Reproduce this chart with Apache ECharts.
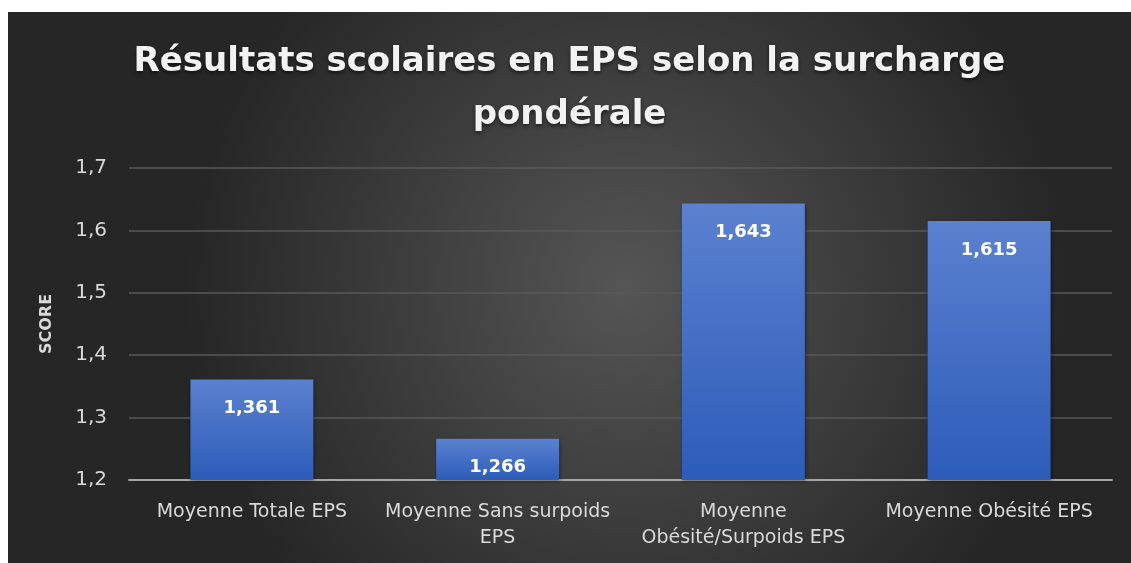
<!DOCTYPE html>
<html>
<head>
<meta charset="utf-8">
<style>
    html, body {
        margin: 0;
        padding: 0;
        background: #ffffff;
    }

    #main {
        position: absolute;
        left: 8px;
        top: 12px;
        width: 1123px;
        height: 551px;
    }
</style>
<script src="https://cdn.jsdelivr.net/npm/echarts@6/dist/echarts.min.js"></script>
</head>
<body>
<div id="main"></div>
<script>
    // 数据
    var categories = [
        'Moyenne Totale EPS',
        'Moyenne Sans surpoids\nEPS',
        'Moyenne\nObésité/Surpoids EPS',
        'Moyenne Obésité EPS'
    ];
    var scores = [1.361, 1.266, 1.643, 1.615];
    var chartTitle = 'Résultats scolaires en EPS selon la surcharge\npondérale';
    var axisName = 'SCORE';

    var myChart = echarts.init(document.getElementById('main'));

    var fontName = 'DejaVu Sans';

    option = {
        backgroundColor: {
            type: 'radial', x: 0.55, y: 0.5, r: 0.8,
            colorStops: [
                {offset: 0, color: '#555555'},
                {offset: 1, color: '#262626'}
            ]
        },
        title: {
            text: chartTitle,
            left: 'center',
            top: 19,
            textStyle: {
                color: '#f2f2f2',
                fontFamily: fontName,
                fontWeight: 'bold',
                fontSize: 34,
                lineHeight: 53,
                textShadowColor: 'rgba(0,0,0,0.6)',
                textShadowBlur: 4,
                textShadowOffsetY: 2
            }
        },
        grid: {
            left: 121,
            right: 19,
            top: 156,
            bottom: 83
        },
        xAxis: {
            type: 'category',
            data: categories,
            axisLine: {lineStyle: {color: '#a6a6a6', width: 2}},
            axisTick: {show: false},
            axisLabel: {
                color: '#d9d9d9',
                fontFamily: fontName,
                fontSize: 19,
                lineHeight: 26,
                margin: 19,
                interval: 0
            }
        },
        yAxis: {
            type: 'value',
            min: 1.2,
            max: 1.7,
            interval: 0.1,
            name: axisName,
            nameLocation: 'middle',
            nameGap: 74,
            nameTextStyle: {
                color: '#d9d9d9',
                fontFamily: fontName,
                fontWeight: 'bold',
                fontSize: 16
            },
            axisLine: {show: false},
            axisTick: {show: false},
            axisLabel: {
                color: '#d9d9d9',
                fontFamily: fontName,
                fontSize: 20,
                margin: 22,
                formatter: function (v) {
                    return v.toFixed(1).replace('.', ',');
                }
            },
            splitLine: {lineStyle: {color: '#595959', width: 1.5}}
        },
        series: [{
            type: 'bar',
            data: scores,
            barWidth: '50%',
            itemStyle: {
                color: {
                    type: 'linear', x: 0, y: 0, x2: 0, y2: 1,
                    colorStops: [
                        {offset: 0, color: '#5b81d0'},
                        {offset: 1, color: '#2d5cb9'}
                    ]
                },
                shadowColor: 'rgba(0,0,0,0.4)',
                shadowBlur: 4,
                shadowOffsetX: 1,
                shadowOffsetY: 1
            },
            label: {
                show: true,
                position: 'insideTop',
                distance: 20,
                color: '#ffffff',
                fontFamily: fontName,
                fontWeight: 'bold',
                fontSize: 18,
                formatter: function (p) {
                    return p.value.toFixed(3).replace('.', ',');
                }
            }
        }]
    };

    myChart.setOption(option);
</script>
</body>
</html>
